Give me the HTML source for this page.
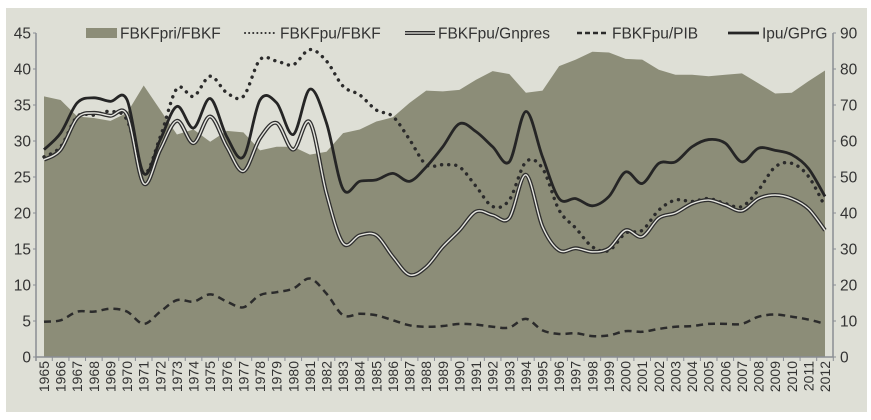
<!DOCTYPE html>
<html><head><meta charset="utf-8"><style>
html,body{margin:0;padding:0;background:#fff;}
svg{display:block;font-family:"Liberation Sans",sans-serif;}
</style></head><body>
<svg id="chart" width="871" height="420" viewBox="0 0 871 420" xmlns="http://www.w3.org/2000/svg">
<rect x="6" y="8" width="861" height="404" fill="#dedfd6"/>
<g id="plot"></g>
<g id="legend"></g>
</svg>
<script>
const years=[];for(let y=1965;y<=2012;y++)years.push(y);
const leftTicks=[0,5,10,15,20,25,30,35,40,45];
const rightTicks=[0,10,20,30,40,50,60,70,80,90];
const fbkfpri=[36.2,35.7,33.4,33.2,32.8,33.9,37.7,34.3,30.9,31.6,29.9,31.4,31.2,28.7,29.2,29.2,28.1,28.5,31.1,31.6,32.7,33.3,35.3,37.0,36.9,37.1,38.5,39.7,39.3,36.7,37.0,40.4,41.3,42.4,42.3,41.4,41.3,39.9,39.2,39.2,39.0,39.2,39.4,38.0,36.6,36.7,38.3,39.8];
const fbkfpu=[27.8,29.2,33.4,33.6,34.1,32.9,25.5,30.6,37.3,36.2,39.0,36.7,36.2,41.3,41.1,40.6,42.7,41.1,37.6,36.4,34.3,33.4,30.2,26.7,26.7,26.4,23.7,20.9,21.8,27.1,26.2,20.4,17.9,15.3,14.8,17.2,17.6,20.4,21.8,21.6,22.0,21.3,20.9,23.2,26.4,26.9,25.1,20.9];
const gnpres=[27.4,28.8,33.2,33.9,33.5,33.6,24.1,28.8,32.8,29.7,33.4,29.2,25.8,30.4,32.5,28.8,32.6,22.7,15.8,16.9,16.9,13.9,11.4,12.5,15.3,17.6,20.2,19.7,19.3,25.3,18.1,14.8,15.1,14.6,15.1,17.6,16.7,19.3,20.0,21.3,21.8,21.1,20.3,22.0,22.5,22.0,20.6,17.6];
const pib=[4.9,5.1,6.3,6.3,6.7,6.3,4.6,6.3,7.9,7.7,8.7,7.7,6.9,8.6,9.0,9.5,10.9,8.8,5.8,6.0,5.8,5.1,4.4,4.2,4.3,4.6,4.5,4.2,4.1,5.3,3.7,3.2,3.3,2.9,3.0,3.6,3.5,3.9,4.2,4.3,4.6,4.6,4.6,5.6,5.9,5.6,5.2,4.6];
const ipu=[28.8,31.1,35.3,36.0,35.5,35.7,25.5,30.2,34.8,31.8,35.9,30.6,27.8,35.7,35.3,30.9,37.2,32.5,23.3,24.4,24.6,25.5,24.4,26.4,29.2,32.4,31.3,29.2,27.1,34.1,27.8,22.0,22.0,21.0,22.3,25.7,24.1,26.9,27.1,29.2,30.2,29.7,27.1,29.0,28.7,28.1,26.2,22.3];

const NS="http://www.w3.org/2000/svg";
const X0=44,X1=825,Y0=357,Y1=33,AL=36,AR=833;
const xs=i=>X0+(X1-X0)*i/(years.length-1);
const ys=v=>Y0-(Y0-Y1)*v/45;
const ysR=v=>Y0-(Y0-Y1)*v/90;
const plot=document.getElementById('plot');
function mk(tag,attrs,parent){const e=document.createElementNS(NS,tag);for(const k in attrs)e.setAttribute(k,attrs[k]);(parent||plot).appendChild(e);return e;}
function smooth(arr){const p=arr.map((v,i)=>[xs(i),ys(v)]);let d=`M${p[0][0]},${p[0][1]}`;
for(let i=0;i<p.length-1;i++){const a=p[i-1]||p[i],b=p[i],c=p[i+1],e=p[i+2]||c;
d+=` C${b[0]+(c[0]-a[0])/6},${b[1]+(c[1]-a[1])/6} ${c[0]-(e[0]-b[0])/6},${c[1]-(e[1]-b[1])/6} ${c[0]},${c[1]}`;}return d;}

let ad=`M${xs(0)},${ys(0)}`;fbkfpri.forEach((v,i)=>ad+=` L${xs(i)},${ys(v)}`);ad+=` L${xs(years.length-1)},${ys(0)} Z`;
const area=mk('path',{d:ad,fill:'#8c8d78'});



const axL=mk('line',{x1:AL,y1:Y1,x2:AL,y2:Y0+4,stroke:'#8a8d94','stroke-width':1.5});

const axR=mk('line',{x1:AR,y1:Y1,x2:AR,y2:Y0,stroke:'#8a8d94','stroke-width':1.5});

const axB=mk('line',{x1:AL,y1:Y0,x2:AR,y2:Y0,stroke:'#8a8d94','stroke-width':1.5});

leftTicks.forEach(t=>{mk('line',{x1:AL-3,x2:AL,y1:ys(t),y2:ys(t),stroke:'#8a8d94'});
const tx=mk('text',{x:AL-5,y:ys(t)+5.5,'text-anchor':'end','font-size':15.5,fill:'#333'});tx.textContent=t;
});
rightTicks.forEach(t=>{mk('line',{x1:AR,x2:AR+3,y1:ysR(t),y2:ysR(t),stroke:'#8a8d94'});
const tx=mk('text',{x:AR+7,y:ysR(t)+5.5,'text-anchor':'start','font-size':15.5,fill:'#333'});tx.textContent=t;
});
years.forEach((y,i)=>{const x=xs(i);mk('line',{x1:x+8.3,x2:x+8.3,y1:Y0,y2:Y0+4,stroke:'#8a8d94'});
const tx=mk('text',{x:0,y:0,transform:`translate(${x+5},${Y0+4}) rotate(-90)`,'text-anchor':'end','font-size':14,fill:'#333'});tx.textContent=y;
});

const s1=mk('path',{d:smooth(fbkfpu),fill:'none',stroke:'#2b2b2b','stroke-width':3.4,'stroke-dasharray':'0.1 7','stroke-linecap':'round'});

const s2a=mk('path',{d:smooth(gnpres),fill:'none',stroke:'#2e2e2e','stroke-width':4});

const s2b=mk('path',{d:smooth(gnpres),fill:'none',stroke:'#e6e6e0','stroke-width':1.4});

const s3=mk('path',{d:smooth(pib),fill:'none',stroke:'#2b2b2b','stroke-width':2.5,'stroke-dasharray':'7 5'});

const s4=mk('path',{d:smooth(ipu),fill:'none',stroke:'#252525','stroke-width':2.8});


const lg=document.getElementById('legend');
const r=mk('rect',{x:86,y:28,width:31,height:10,fill:'#8c8d78'},lg);

const legendItems=[[120,'FBKFpri/FBKF',null],[280,'FBKFpu/FBKF','dot'],[438,'FBKFpu/Gnpres','dbl'],[612,'FBKFpu/PIB','dash'],[762,'Ipu/GPrG','solid']];
legendItems.forEach(([x,label,st])=>{
 if(st==='dot')mk('line',{x1:x-35,x2:x-5,y1:33,y2:33,stroke:'#2b2b2b','stroke-width':2,'stroke-dasharray':'0.1 4','stroke-linecap':'round'},lg);
 if(st==='dbl'){mk('line',{x1:x-33,x2:x-3,y1:33,y2:33,stroke:'#2e2e2e','stroke-width':4},lg);mk('line',{x1:x-33,x2:x-3,y1:33,y2:33,stroke:'#e6e6e0','stroke-width':1.2},lg);}
 if(st==='dash')mk('line',{x1:x-35,x2:x-3,y1:33,y2:33,stroke:'#2b2b2b','stroke-width':2.5,'stroke-dasharray':'5 3'},lg);
 if(st==='solid')mk('line',{x1:x-34,x2:x-3,y1:33,y2:33,stroke:'#252525','stroke-width':2.8},lg);
 const t=mk('text',{x:x,y:38.5,'font-size':15.5,fill:'#333'},lg);t.textContent=label;
 
});
</script>
</body></html>
